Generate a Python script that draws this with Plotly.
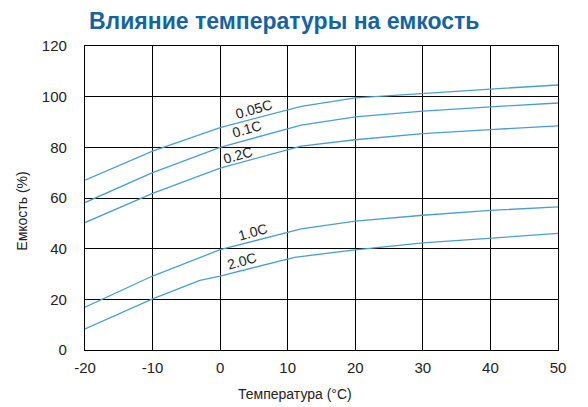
import plotly.graph_objects as go

# capacity (%) vs temperature (°C) for each discharge rate
temp_005 = [-20, -10, 0, 12, 20, 30, 40, 50]
cap_005 = [67, 78.5, 87.8, 96.2, 99.5, 101.3, 103, 104.6]

temp_01 = [-20, -10, 0, 12, 20, 30, 40, 50]
cap_01 = [58.2, 70, 80, 88.8, 92, 94.3, 96, 97.5]

temp_02 = [-20, -10, 0, 12, 20, 30, 40, 50]
cap_02 = [50.3, 61.8, 71.8, 80.5, 83, 85.4, 87, 88.5]

temp_10 = [-20, -10, 0, 12, 20, 30, 40, 50]
cap_10 = [16.9, 29.2, 39.6, 47.8, 50.9, 53.2, 55.1, 56.5]

temp_20 = [-20, -10, -3, 0, 11, 20, 30, 40, 50]
cap_20 = [8.3, 20.2, 27.5, 29.2, 36.6, 39.5, 42.3, 44.1, 46]

series = [
    ("0.05C", temp_005, cap_005, 5.0, 95.3),
    ("0.1C", temp_01, cap_01, 3.9, 87.4),
    ("0.2C", temp_02, cap_02, 2.7, 77.1),
    ("1.0C", temp_10, cap_10, 4.8, 46.6),
    ("2.0C", temp_20, cap_20, 3.2, 35.2),
]

x_ticks = [-20, -10, 0, 10, 20, 30, 40, 50]
x_labels = ["-20", "-10", "0", "10", "20", "30", "40", "50"]
y_ticks = [0, 20, 40, 60, 80, 100, 120]

line_color = "#4a9fd2"
font = "Liberation Sans, Arial, sans-serif"

fig = go.Figure()
for name, xs, ys, lx, ly in series:
    fig.add_trace(go.Scatter(x=xs, y=ys, mode="lines", name=name,
                             line=dict(color=line_color, width=1.3)))
    fig.add_annotation(x=lx, y=ly, text=name, showarrow=False, textangle=-16,
                       font=dict(family=font, size=14, color="#222"))

fig.add_annotation(x=0.42, y=1.0, xref="paper", yref="paper", yanchor="bottom",
                   yshift=10, showarrow=False, text="<b>Влияние температуры на емкость</b>",
                   font=dict(family=font, size=23, color="#16649f"))
fig.add_annotation(x=0.445, y=0, xref="paper", yref="paper", yanchor="top",
                   yshift=-34, showarrow=False, text="Температура (°C)",
                   font=dict(family=font, size=14, color="#222"))
fig.add_annotation(x=0, y=0.455, xref="paper", yref="paper", xanchor="center",
                   xshift=-63, showarrow=False, textangle=-90, text="Емкость (%)",
                   font=dict(family=font, size=14, color="#222"))

# page has an 8px body margin, so the figure is a bit smaller than the window
fig.update_layout(
    width=580, height=399,
    margin=dict(l=77, r=30, t=38, b=57, autoexpand=False),
    paper_bgcolor="white", plot_bgcolor="white",
    showlegend=False,
    font=dict(family=font, size=15, color="#222"),
)
fig.update_xaxes(range=[-20, 50], tickvals=x_ticks, ticktext=x_labels, showgrid=True,
                 gridcolor="black", gridwidth=1.3, showline=True, linecolor="black",
                 linewidth=1.3, mirror=True, zeroline=False, ticks="", ticklabelstandoff=4)
fig.update_yaxes(range=[0, 120], tickvals=y_ticks, showgrid=True, gridcolor="black",
                 gridwidth=1.3, showline=True, linecolor="black", linewidth=1.3,
                 mirror=True, zeroline=False, ticks="", ticklabelstandoff=14)

fig.write_html("out.html")
